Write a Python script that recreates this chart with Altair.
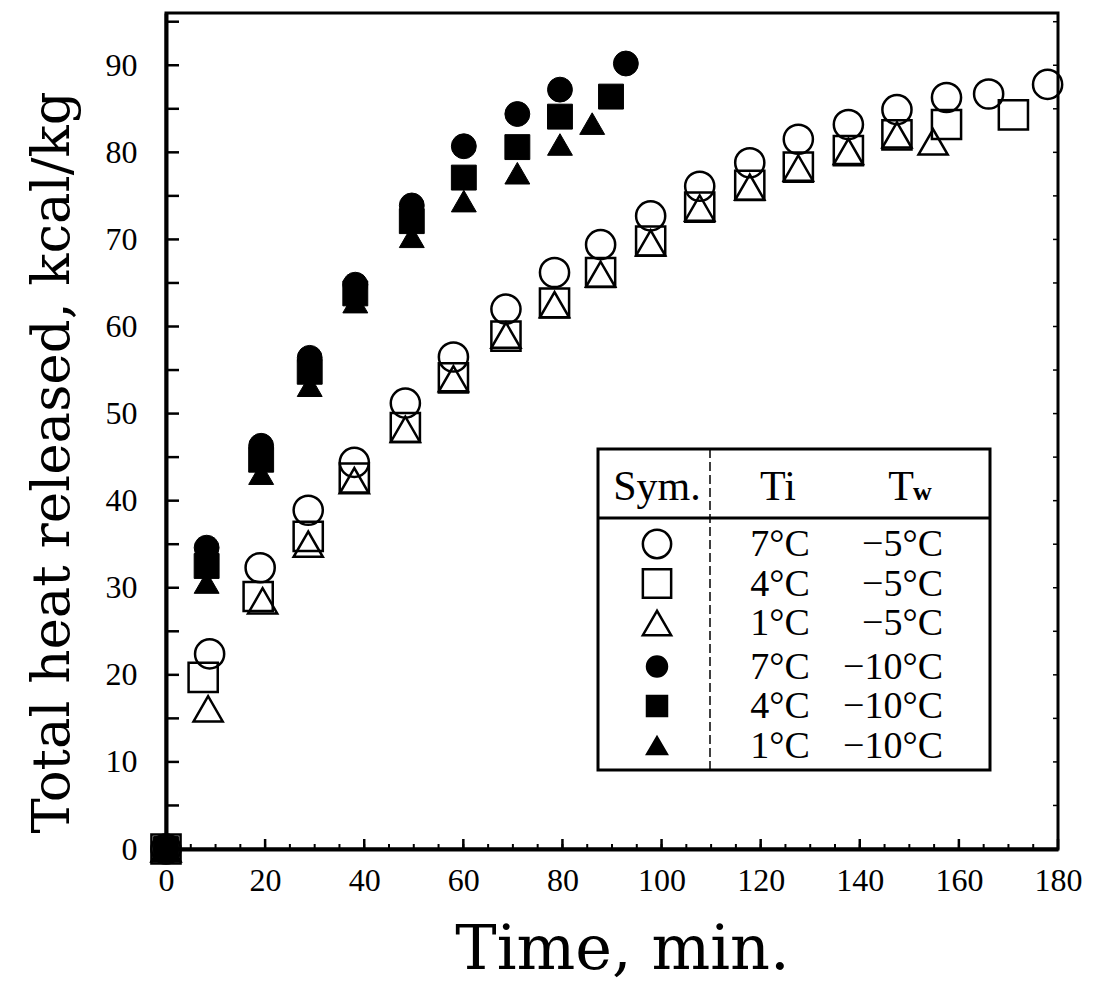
import altair as alt
import pandas as pd

# ---------------- data ----------------
# open symbols : Tw = -5 °C
c5_t = [0, 8.8, 19.0, 28.7, 38.0, 48.3, 58.0, 68.6, 78.4, 87.7, 97.8, 107.7, 117.8, 127.6, 137.7, 147.5, 157.5, 166.0, 177.9]
c5_v = [0, 22.4, 32.3, 38.9, 44.4, 51.2, 56.5, 62.0, 66.2, 69.4, 72.7, 76.1, 78.8, 81.5, 83.2, 84.9, 86.3, 86.7, 87.8]

s5_t = [0, 7.5, 18.6, 28.7, 38.0, 48.3, 58.0, 68.6, 78.4, 87.7, 97.8, 107.7, 117.8, 127.6, 137.7, 147.5, 157.5, 171.0]
s5_v = [0, 19.7, 29.0, 35.9, 42.6, 48.4, 54.1, 58.9, 62.7, 66.2, 69.8, 73.7, 76.2, 78.3, 80.2, 82.0, 83.2, 84.3]

t5_t = [0, 8.5, 19.5, 28.7, 38.0, 48.3, 58.0, 68.6, 78.4, 87.7, 97.8, 107.7, 117.8, 127.6, 137.7, 147.5, 154.8]
t5_v = [0, 16.1, 28.5, 35.0, 42.3, 48.2, 54.0, 59.0, 62.5, 66.0, 69.6, 73.6, 76.0, 78.2, 80.1, 82.0, 81.2]

# filled symbols : Tw = -10 °C
c10_t = [0, 8.2, 19.2, 29.0, 38.2, 49.6, 60.1, 70.9, 79.5, 92.8]
c10_v = [0, 34.6, 46.3, 56.4, 64.8, 73.9, 80.7, 84.4, 87.2, 90.2]

s10_t = [0, 8.2, 19.2, 29.0, 38.2, 49.6, 60.1, 70.9, 79.5, 89.8]
s10_v = [0, 32.5, 44.7, 54.8, 63.8, 72.1, 77.1, 80.6, 84.1, 86.4]

t10_t = [0, 8.2, 19.2, 29.0, 38.2, 49.6, 60.1, 70.9, 79.5, 86.0]
t10_v = [0, 30.6, 43.1, 53.2, 62.8, 70.3, 74.4, 77.6, 80.9, 83.3]

x_tick_labels = [0, 20, 40, 60, 80, 100, 120, 140, 160, 180]
y_tick_labels = [0, 10, 20, 30, 40, 50, 60, 70, 80, 90]
x_minor = list(range(0, 181, 5))
y_minor = list(range(0, 96, 5))

leg_shape = ["circle", "square", "triangle-up", "circle", "square", "triangle-up"]
leg_filled = [False, False, False, True, True, True]
leg_Ti = ["7°C", "4°C", "1°C", "7°C", "4°C", "1°C"]
leg_Tw = ["−5°C", "−5°C", "−5°C", "−10°C", "−10°C", "−10°C"]

X_TITLE = "Time, min."
Y_TITLE = "Total heat released, kcal/kg"

# ---------------- tables ----------------
series = [
    ("circle", False, c5_t, c5_v),
    ("square", False, s5_t, s5_v),
    ("triangle-up", False, t5_t, t5_v),
    ("circle", True, c10_t, c10_v),
    ("square", True, s10_t, s10_v),
    ("triangle-up", True, t10_t, t10_v),
]
rows = []
for shape, filled, ts, vs in series:
    for t, v in zip(ts, vs):
        rows.append({"t": t, "v": v, "shape": shape, "filled": filled})
df = pd.DataFrame(rows)

leg_df = pd.DataFrame({"row": list(range(6)), "shape": leg_shape, "filled": leg_filled,
                       "Ti": leg_Ti, "Tw": leg_Tw})

# ---------------- style ----------------
W, H = 892, 836
TITLE_FONT = "DejaVu Serif"
TICK_FONT = "Liberation Serif"
LEG_FONT = "Liberation Serif"

xs = alt.Scale(domain=[0, 180], nice=False, zero=False)
ys = alt.Scale(domain=[0, 96], nice=False, zero=False)

x_axis = alt.Axis(values=x_tick_labels, ticks=False, grid=False, domainColor="black", domainWidth=4,
                  labelFont=TICK_FONT, labelFontSize=32, labelColor="black", labelPadding=16,
                  labelFlush=False, labelOverlap=False,
                  titleFont=TITLE_FONT, titleFontSize=62, titleFontWeight="normal", titleColor="black",
                  titleX=456, titleY=119, titleAlign="center", titleBaseline="alphabetic")
y_axis = alt.Axis(values=y_tick_labels, ticks=False, grid=False, domainColor="black", domainWidth=4,
                  labelFont=TICK_FONT, labelFontSize=32, labelColor="black", labelPadding=29,
                  labelBaseline="middle",
                  titleFont=TITLE_FONT, titleFontSize=53, titleFontWeight="normal", titleColor="black",
                  titleAngle=270, titleX=-114, titleY=449, titleAlign="center", titleBaseline="middle")

def X(field="t"):
    return alt.X(f"{field}:Q", scale=xs, axis=x_axis, title=X_TITLE)

def Y(field="v"):
    return alt.Y(f"{field}:Q", scale=ys, axis=y_axis, title=Y_TITLE)

base = alt.Chart(df)
open_pts = base.transform_filter("!datum.filled").mark_point(
    filled=False, stroke="black", strokeWidth=2.5, size=850, opacity=1
).encode(x=X(), y=Y(), shape=alt.Shape("shape:N", scale=None))
fill_pts = base.transform_filter("datum.filled").mark_point(
    filled=True, fill="black", stroke="black", strokeWidth=1, size=620, opacity=1
).encode(x=X(), y=Y(), shape=alt.Shape("shape:N", scale=None))

# inward ticks
ydf = pd.DataFrame({"v": y_minor})
xdf = pd.DataFrame({"t": x_minor})
y_ticks_l = alt.Chart(ydf).mark_rule(color="black", strokeWidth=2.5).encode(
    y=Y(), x=alt.value(0), x2=alt.value(13))
y_ticks_r = alt.Chart(ydf).mark_rule(color="black", strokeWidth=1.5).encode(
    y=Y(), x=alt.value(W - 5), x2=alt.value(W))
x_ticks_minor = alt.Chart(xdf).mark_rule(color="black", strokeWidth=2).encode(
    x=X(), y=alt.value(H), y2=alt.value(H - 5))
x_ticks_major = alt.Chart(xdf).transform_filter("datum.t % 20 == 0").mark_rule(
    color="black", strokeWidth=2.5).encode(
    x=X(), y=alt.value(H), y2=alt.value(H - 10))

# legend table (drawn inside the plot)
LX0, LX1, LY0, LY1 = 432, 824, 436, 757
one = alt.Chart(leg_df).transform_filter("datum.row == 0")
leg_box = one.mark_rect(fill="white", stroke="black", strokeWidth=3).encode(
    x=alt.value(LX0), x2=alt.value(LX1), y=alt.value(LY0), y2=alt.value(LY1))
leg_sep = one.mark_rule(color="black", strokeWidth=3).encode(
    x=alt.value(LX0), x2=alt.value(LX1), y=alt.value(505))
leg_vsep = one.mark_rule(color="black", strokeWidth=1.5, strokeDash=[9, 4]).encode(
    x=alt.value(544), y=alt.value(LY0), y2=alt.value(LY1))

def hdr(txt, x, size=42, align="center", weight="normal"):
    return one.mark_text(text=txt, font=LEG_FONT, fontSize=size, color="black", fontWeight=weight,
                         align=align, baseline="alphabetic").encode(
        x=alt.value(x), y=alt.value(487))

headers = [hdr("Sym.", 491), hdr("Ti", 612), hdr("T", 735),
           hdr("w", 747, size=26, align="left", weight="bold")]

SYM_X, TI_X, TW_X = 491, 614, 777
leg_layers = []
for i in range(len(leg_shape)):
    py = 531 + 39.5 * i + (4 if i >= 3 else 0)
    r = alt.Chart(leg_df).transform_filter(f"datum.row == {i}")
    if leg_filled[i]:
        sym = r.mark_point(filled=True, fill="black", stroke="black", size=420, opacity=1)
    else:
        sym = r.mark_point(filled=False, stroke="black", strokeWidth=2.5, size=800, opacity=1)
    leg_layers.append(sym.encode(x=alt.value(SYM_X), y=alt.value(py),
                                 shape=alt.Shape("shape:N", scale=None)))
    leg_layers.append(r.mark_text(font=LEG_FONT, fontSize=38, color="black", align="center",
                                  baseline="middle", dy=1).encode(
        x=alt.value(TI_X), y=alt.value(py), text="Ti:N"))
    leg_layers.append(r.mark_text(font=LEG_FONT, fontSize=38, color="black", align="right",
                                  baseline="middle", dy=1).encode(
        x=alt.value(TW_X), y=alt.value(py), text="Tw:N"))

chart = alt.layer(
    open_pts, fill_pts, y_ticks_l, y_ticks_r, x_ticks_minor, x_ticks_major,
    leg_box, leg_sep, leg_vsep, *headers, *leg_layers,
).properties(
    width=W, height=H,
    padding={"left": 166, "top": 13, "right": 48, "bottom": 140},
    autosize=alt.AutoSizeParams(type="none"),
    background="white",
).configure_view(stroke="black", strokeWidth=3)

chart.save("out.html", embed_options={"renderer": "svg", "actions": False})
